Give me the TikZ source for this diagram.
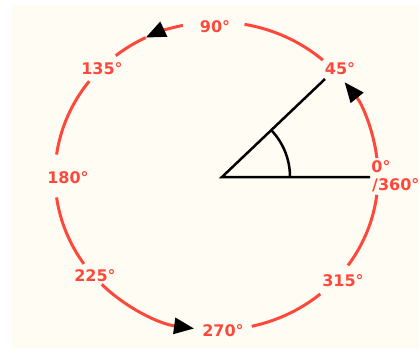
\documentclass[tikz,border=0pt]{standalone}
\usepackage{fontspec}
\setmainfont{DejaVu Sans}
\usetikzlibrary{arrows.meta,calc}
\definecolor{cream}{RGB}{255,253,243}
\definecolor{degred}{RGB}{255,72,60}
\begin{document}
\begin{tikzpicture}[x=1pt,y=-1pt,
  ring/.style={draw=degred,line width=3pt},
  lbl/.style={text=degred,font=\fontsize{16}{18}\selectfont\bfseries,inner sep=0pt},
  tipa/.style={-{Triangle[length=20pt,width=16pt,color=black]}},
  ray/.style={draw=black,line width=2.5pt}]
\useasboundingbox (0,0) rectangle (419,350);
\clip (0,0) rectangle (419,350);
\fill[cream] (12,5) rectangle (419,348);
\coordinate (C) at (216.5,176);
\newcommand\ringarc[3][]{\draw[ring,#1] ($(C)+(#2:161.5pt and 154pt)$) arc[start angle=#2,end angle=#3,x radius=161.5pt,y radius=154pt];}
% red circle segments
\ringarc[tipa]{6.7}{37.5}
\ringarc{48.8}{80}
\ringarc[tipa]{102}{116}
\ringarc{116}{128.6}
\ringarc{142}{172}
\ringarc{188}{214.8}
\ringarc[tipa]{224.7}{262}
\ringarc{282.6}{310}
\ringarc{324.5}{353}
% labels
\node[lbl] (l90) at (215,27) {90°};
\node[lbl] (l135) at (102,69) {135°};
\node[lbl] (l45) at (340,69) {45°};
\node[lbl] (l0) at (381,167) {0°};
\node[lbl,anchor=west] (l360) at (372,185) {/360°};
\node[lbl] (l180) at (68,178) {180°};
\node[lbl] (l225) at (95,276) {225°};
\node[lbl] (l270) at (223,331) {270°};
\node[lbl] (l315) at (343,281) {315°};
% angle
\coordinate (V) at (222,177);
\coordinate (E0) at (370,177);
\coordinate (E45) at (325,79);
\draw[ray] (E0) -- (V) -- (E45);
\draw[ray] ($(V)+(0:68pt)$) arc[start angle=0,end angle=43.6,radius=68pt];
\end{tikzpicture}
\end{document}
